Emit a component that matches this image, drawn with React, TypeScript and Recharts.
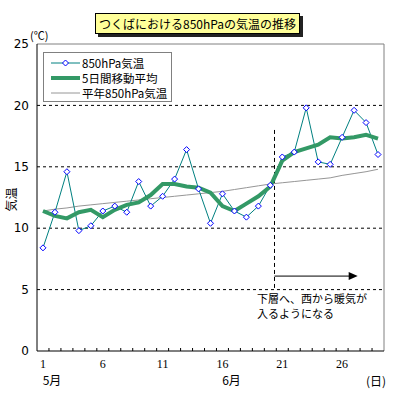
import { LineChart, Line, XAxis, YAxis, ReferenceLine } from 'recharts';

const days = [1, 2, 3, 4, 5, 6, 7, 8, 9, 10, 11, 12, 13, 14, 15, 16, 17, 18, 19, 20, 21, 22, 23, 24, 25, 26, 27, 28, 29];
const temp850 = [8.4, 11.3, 14.6, 9.8, 10.2, 11.4, 11.8, 11.3, 13.8, 11.8, 12.6, 14.0, 16.4, 13.2, 10.4, 12.8, 11.4, 10.9, 11.8, 13.5, 15.8, 16.2, 19.8, 15.4, 15.2, 17.4, 19.6, 18.6, 16.0];
const avg5 = [11.4, 11.0, 10.8, 11.3, 11.5, 10.9, 11.5, 11.9, 12.1, 12.7, 13.6, 13.6, 13.4, 13.3, 12.9, 11.8, 11.4, 12.0, 12.6, 13.4, 15.5, 16.2, 16.5, 16.8, 17.4, 17.3, 17.4, 17.6, 17.3];
const normal = [11.4, 11.55, 11.65, 11.8, 11.9, 12.0, 12.1, 12.2, 12.3, 12.4, 12.5, 12.6, 12.7, 12.8, 12.9, 13.0, 13.15, 13.3, 13.45, 13.6, 13.7, 13.8, 13.9, 14.0, 14.1, 14.3, 14.45, 14.6, 14.8];

const yTicks = [0, 5, 10, 15, 20, 25];
const gridValues = [5, 10, 15, 20];
const xTicks = [1, 6, 11, 16, 21, 26];
const minorTicks = [1.5, 2.5, 3.5, 4.5, 5.5, 6.5, 7.5, 8.5, 9.5, 10.5, 11.5, 12.5, 13.5, 14.5, 15.5, 16.5, 17.5, 18.5, 19.5, 20.5, 21.5, 22.5, 23.5, 24.5, 25.5, 26.5, 27.5, 28.5];
const monthLabels: Record<number, string> = { 1: '5月', 16: '6月' };
const seriesNames = ['850hPa気温', '5日間移動平均', '平年850hPa気温'];
const title = 'つくばにおける850hPaの気温の推移';
const noteLines = ['下層へ、西から暖気が', '入るようになる'];
// annotation: dashed marker from day ~20.35, arrow to ~27.3
const markerDay = 20.35;
const markerTop = 18;
const arrowEndDay = 27.3;
const arrowY = 6.1;

const data = days.map((d, i) => ({ day: d, t: temp850[i], a: avg5[i], n: normal[i] }));
const axisTicks = [...xTicks, ...minorTicks].sort((a, b) => a - b);

const jp = '"Noto Sans CJK JP", sans-serif';

const Diamond = (p: any) => {
  const { cx, cy } = p;
  if (cx == null || cy == null) return <g key={p.key} />;
  const r = 3;
  return (
    <polygon key={p.key} points={`${cx},${cy - r} ${cx + r},${cy} ${cx},${cy + r} ${cx - r},${cy}`}
      fill="#fff" stroke="#0000ff" strokeWidth={1} />
  );
};

// labels on whole days, small inward marks on the day boundaries
const DayTick = (p: any) => {
  const { x, y, payload } = p;
  const v = payload.value;
  if (!xTicks.includes(v)) {
    return <line x1={x} x2={x} y1={y - 8} y2={y - 11} stroke="#000" strokeWidth={1} />;
  }
  const m = monthLabels[v];
  return (
    <g>
      <text x={x} y={y} dy="0.71em" textAnchor="middle" fontSize={12} fill="#000" fontFamily='"Liberation Serif", serif'>{v}</text>
      {m && <text x={x + 9} y={y + 17} dy="0.71em" textAnchor="middle" fontSize={12} fill="#000" fontFamily={jp}>{m}</text>}
    </g>
  );
};

const Arrow = (p: any) => {
  const { x1, y1, x2, y2 } = p;
  return (
    <g>
      <line x1={x1} y1={y1} x2={x2 - 8} y2={y2} stroke="#000" strokeWidth={1} />
      <polygon points={`${x2},${y2} ${x2 - 9},${y2 - 4} ${x2 - 9},${y2 + 4}`} fill="#000" />
    </g>
  );
};

const rowStyle = { display: 'flex', alignItems: 'center', height: 15, whiteSpace: 'nowrap' as const };

const LegendBox = () => (
  <div style={{ position: 'absolute', left: 43, top: 52, border: '1px solid #808080', background: '#fff', width: 129, height: 50, fontFamily: jp, fontSize: 11.5, color: '#000', paddingTop: 2, boxSizing: 'border-box' }}>
    <div style={rowStyle}>
      <svg width={38} height={10}>
        <line x1={7} y1={5} x2={36} y2={5} stroke="#008080" strokeWidth={1} />
        <polygon points="21.5,2 24.5,5 21.5,8 18.5,5" fill="#fff" stroke="#0000ff" />
      </svg>
      <span>{seriesNames[0]}</span>
    </div>
    <div style={rowStyle}>
      <svg width={38} height={10}>
        <line x1={7} y1={5} x2={36} y2={5} stroke="#339966" strokeWidth={4} />
      </svg>
      <span>{seriesNames[1]}</span>
    </div>
    <div style={rowStyle}>
      <svg width={38} height={10}>
        <line x1={7} y1={5} x2={36} y2={5} stroke="#969696" strokeWidth={1} />
      </svg>
      <span>{seriesNames[2]}</span>
    </div>
  </div>
);

export default function App() {
  return (
    <div style={{ position: 'absolute', left: 0, top: 0, width: 399, height: 399, background: '#fff', color: '#000' }}>
      <LineChart width={399} height={399} data={data} margin={{ top: 44, right: 15, bottom: 28, left: 0 }}>
        <XAxis dataKey="day" type="number" domain={[0.5, 29.5]} ticks={axisTicks} interval={0}
          height={20} tickLine={false} axisLine={{ stroke: '#000' }} tick={DayTick} />
        <YAxis domain={[0, 25]} ticks={yTicks} width={37} tickLine={false} axisLine={{ stroke: '#000' }}
          tick={{ fontSize: 12, fill: '#000', fontFamily: '"DejaVu Sans", sans-serif' }} />
        {gridValues.map((v) => (
          <ReferenceLine key={v} y={v} stroke="#000" strokeDasharray="3 3" />
        ))}
        <ReferenceLine y={25} stroke="#808080" />
        <ReferenceLine x={29.5} stroke="#808080" />
        <ReferenceLine segment={[{ x: markerDay, y: markerTop }, { x: markerDay, y: 5 }]} stroke="#000" strokeDasharray="4 3" />
        <ReferenceLine segment={[{ x: markerDay, y: arrowY }, { x: arrowEndDay, y: arrowY }]} shape={Arrow} />
        <Line dataKey="n" stroke="#969696" strokeWidth={1} dot={false} isAnimationActive={false} />
        <Line dataKey="t" stroke="#008080" strokeWidth={1} dot={false} isAnimationActive={false} />
        <Line dataKey="a" stroke="#339966" strokeWidth={4} dot={false} isAnimationActive={false} />
        <Line dataKey="t" stroke="none" dot={Diamond} activeDot={false} isAnimationActive={false} />
      </LineChart>
      <LegendBox />
      <div style={{ position: 'absolute', left: 95, top: 13, width: 205, height: 21, boxSizing: 'border-box', border: '1px solid #000', background: '#ffff99', boxShadow: '3px 3px 0 #222', fontFamily: jp, fontSize: 12, lineHeight: '19px', textAlign: 'center', whiteSpace: 'nowrap' }}>{title}</div>
      <div style={{ position: 'absolute', left: 30, top: 27, fontFamily: jp, fontSize: 11 }}>(℃)</div>
      <div style={{ position: 'absolute', left: -6, top: 191, width: 32, textAlign: 'center', transform: 'rotate(-90deg)', fontFamily: jp, fontSize: 12 }}>気温</div>
      <div style={{ position: 'absolute', left: 366, top: 372, fontFamily: jp, fontSize: 12 }}>(日)</div>
      <div style={{ position: 'absolute', left: 257, top: 291, fontFamily: jp, fontSize: 11, lineHeight: '15px', whiteSpace: 'nowrap' }}>
        {noteLines.map((l) => <div key={l}>{l}</div>)}
      </div>
    </div>
  );
}
